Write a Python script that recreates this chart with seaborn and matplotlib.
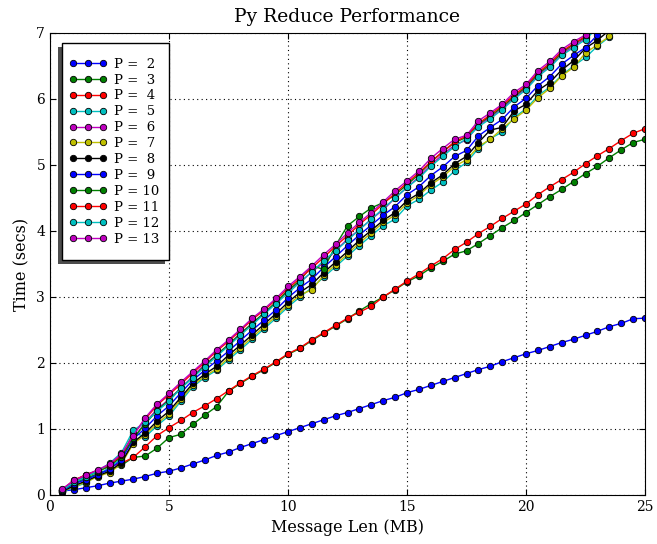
import matplotlib
matplotlib.use("Agg")
import matplotlib.pyplot as plt
import seaborn as sns
from matplotlib.patches import Rectangle
from matplotlib.transforms import IdentityTransform

# Message length (MB)
msg_len = [0.5, 1.0, 1.5, 2.0, 2.5, 3.0, 3.5, 4.0, 4.5, 5.0,
           5.5, 6.0, 6.5, 7.0, 7.5, 8.0, 8.5, 9.0, 9.5, 10.0,
           10.5, 11.0, 11.5, 12.0, 12.5, 13.0, 13.5, 14.0, 14.5, 15.0,
           15.5, 16.0, 16.5, 17.0, 17.5, 18.0, 18.5, 19.0, 19.5, 20.0,
           20.5, 21.0, 21.5, 22.0, 22.5, 23.0, 23.5, 24.0, 24.5, 25.0]

procs = [2, 3, 4, 5, 6, 7, 8, 9, 10, 11, 12, 13]
colors = ["b", "g", "r", "c", "m", "y", "k", "b", "g", "r", "c", "m"]

t_p2 = [0.06, 0.08, 0.11, 0.14, 0.18, 0.21, 0.24, 0.28, 0.33, 0.36,
        0.41, 0.47, 0.53, 0.60, 0.65, 0.72, 0.78, 0.84, 0.90, 0.96,
        1.02, 1.08, 1.14, 1.20, 1.25, 1.31, 1.37, 1.43, 1.48, 1.55,
        1.60, 1.66, 1.72, 1.78, 1.84, 1.90, 1.95, 2.02, 2.08, 2.14,
        2.19, 2.25, 2.31, 2.36, 2.42, 2.48, 2.55, 2.60, 2.67, 2.68]
t_p3 = [0.06, 0.18, 0.25, 0.32, 0.38, 0.45, 0.57, 0.59, 0.71, 0.87,
        0.92, 1.07, 1.21, 1.34, 1.57, 1.69, 1.80, 1.90, 2.01, 2.13,
        2.22, 2.34, 2.45, 2.56, 2.67, 2.79, 2.90, 3.00, 3.11, 3.23,
        3.32, 3.44, 3.54, 3.65, 3.70, 3.81, 3.93, 4.05, 4.16, 4.28,
        4.40, 4.52, 4.63, 4.75, 4.87, 4.98, 5.11, 5.23, 5.34, 5.39]
t_p4 = [0.07, 0.23, 0.30, 0.37, 0.43, 0.48, 0.57, 0.73, 0.90, 1.02,
        1.13, 1.25, 1.35, 1.46, 1.58, 1.70, 1.81, 1.91, 2.02, 2.14,
        2.23, 2.35, 2.46, 2.57, 2.68, 2.77, 2.86, 3.00, 3.12, 3.24,
        3.35, 3.47, 3.58, 3.72, 3.83, 3.96, 4.07, 4.19, 4.30, 4.41,
        4.55, 4.67, 4.78, 4.89, 5.02, 5.14, 5.25, 5.37, 5.48, 5.55]
t_p5 = [0.04, 0.12, 0.18, 0.30, 0.42, 0.55, 0.95, 0.88, 1.05, 1.20,
        1.42, 1.64, 1.78, 1.89, 2.05, 2.20, 2.36, 2.52, 2.68, 2.85,
        3.00, 3.14, 3.30, 3.46, 3.62, 3.78, 3.93, 4.08, 4.18, 4.38,
        4.48, 4.62, 4.74, 4.91, 5.04, 5.25, 5.40, 5.50, 5.72, 5.85,
        6.05, 6.18, 6.36, 6.50, 6.63, 6.80, 6.94, 7.10]
t_p6 = [0.08, 0.20, 0.28, 0.36, 0.45, 0.58, 0.85, 1.10, 1.30, 1.45,
        1.62, 1.80, 1.98, 2.12, 2.28, 2.45, 2.60, 2.76, 2.92, 3.10,
        3.22, 3.38, 3.52, 3.70, 3.88, 4.02, 4.18, 4.32, 4.50, 4.66,
        4.82, 5.00, 5.16, 5.30, 5.38, 5.60, 5.72, 5.86, 6.02, 6.16,
        6.36, 6.50, 6.68, 6.80, 6.92, 7.10, 7.25, 7.40]
t_p7 = [0.05, 0.13, 0.19, 0.28, 0.34, 0.47, 0.78, 0.91, 1.08, 1.23,
        1.45, 1.66, 1.80, 1.91, 2.08, 2.23, 2.39, 2.55, 2.71, 2.88,
        3.03, 3.11, 3.33, 3.49, 3.65, 3.82, 3.97, 4.13, 4.24, 4.42,
        4.54, 4.70, 4.82, 4.98, 5.08, 5.28, 5.39, 5.55, 5.70, 5.83,
        6.02, 6.16, 6.35, 6.48, 6.70, 6.82, 6.95, 7.10]
t_p8 = [0.05, 0.14, 0.21, 0.29, 0.36, 0.49, 0.80, 0.94, 1.12, 1.27,
        1.48, 1.69, 1.83, 1.95, 2.12, 2.27, 2.43, 2.59, 2.75, 2.92,
        3.07, 3.19, 3.37, 3.53, 3.69, 3.86, 4.01, 4.16, 4.28, 4.46,
        4.57, 4.73, 4.85, 5.02, 5.13, 5.34, 5.53, 5.57, 5.82, 5.92,
        6.13, 6.25, 6.44, 6.58, 6.77, 6.89, 7.04, 7.20]
t_p9 = [0.06, 0.17, 0.23, 0.31, 0.39, 0.53, 0.85, 1.01, 1.20, 1.35,
        1.55, 1.74, 1.89, 2.03, 2.18, 2.34, 2.50, 2.65, 2.81, 2.99,
        3.14, 3.27, 3.45, 3.61, 3.78, 3.94, 4.09, 4.24, 4.37, 4.55,
        4.67, 4.84, 4.97, 5.13, 5.22, 5.44, 5.57, 5.69, 5.88, 6.01,
        6.20, 6.34, 6.53, 6.66, 6.78, 6.97, 7.11, 7.26]
t_p10 = [0.07, 0.19, 0.27, 0.35, 0.44, 0.58, 0.86, 1.08, 1.28, 1.44,
         1.62, 1.78, 1.96, 2.12, 2.28, 2.44, 2.60, 2.76, 2.92, 3.10,
         3.25, 3.47, 3.42, 3.78, 4.08, 4.22, 4.35, 4.43, 4.55, 4.70,
         4.86, 5.04, 5.20, 5.34, 5.42, 5.62, 5.74, 5.88, 6.04, 6.18,
         6.38, 6.52, 6.70, 6.83, 6.94, 7.12, 7.27, 7.42]
t_p11 = [0.08, 0.21, 0.31, 0.37, 0.46, 0.60, 0.92, 1.15, 1.36, 1.52,
         1.68, 1.85, 2.01, 2.18, 2.33, 2.49, 2.66, 2.80, 2.96, 3.13,
         3.28, 3.44, 3.60, 3.77, 3.93, 4.10, 4.25, 4.41, 4.57, 4.73,
         4.88, 5.05, 5.20, 5.35, 5.44, 5.63, 5.76, 5.90, 6.06, 6.20,
         6.40, 6.54, 6.72, 6.84, 6.95, 7.12, 7.28, 7.42]
t_p12 = [0.07, 0.19, 0.27, 0.36, 0.48, 0.64, 0.98, 1.10, 1.27, 1.42,
         1.62, 1.78, 1.94, 2.10, 2.26, 2.42, 2.58, 2.74, 2.90, 3.06,
         3.22, 3.38, 3.55, 3.70, 3.86, 4.02, 4.18, 4.34, 4.50, 4.66,
         4.80, 4.98, 5.13, 5.28, 5.40, 5.58, 5.70, 5.84, 6.00, 6.14,
         6.34, 6.48, 6.66, 6.78, 6.90, 7.08, 7.22, 7.38]
t_p13 = [0.09, 0.22, 0.30, 0.38, 0.47, 0.62, 0.90, 1.17, 1.38, 1.54,
         1.71, 1.87, 2.03, 2.20, 2.35, 2.51, 2.68, 2.82, 2.98, 3.16,
         3.31, 3.47, 3.64, 3.80, 3.97, 4.13, 4.28, 4.44, 4.61, 4.76,
         4.91, 5.10, 5.25, 5.39, 5.45, 5.67, 5.79, 5.92, 6.10, 6.22,
         6.43, 6.57, 6.75, 6.87, 6.97, 7.15, 7.30, 7.45]

times = [t_p2, t_p3, t_p4, t_p5, t_p6, t_p7, t_p8, t_p9, t_p10, t_p11, t_p12, t_p13]

x_ticks = [0, 5, 10, 15, 20, 25]
y_ticks = [0, 1, 2, 3, 4, 5, 6, 7]

sns.set_style("ticks", rc={
    "xtick.direction": "in", "ytick.direction": "in",
    "xtick.top": True, "ytick.right": True,
    "axes.grid": True, "grid.color": "k",
    "grid.linewidth": 0.7, "axes.edgecolor": "k", "axes.linewidth": 1.0,
    "xtick.color": "k", "ytick.color": "k", "text.color": "k",
    "axes.labelcolor": "k",
})
plt.rcParams["font.family"] = ["DejaVu Serif", "DejaVu Sans"]
plt.rcParams["xtick.major.size"] = 4
plt.rcParams["ytick.major.size"] = 4

fig = plt.figure(figsize=(6.57, 5.44), dpi=100)
fig.patch.set_facecolor("white")
ax = fig.add_axes([50 / 657, 49 / 544, 595 / 657, 462 / 544])

for p, col, vals in zip(procs, colors, times):
    n = len(vals)
    sns.lineplot(x=msg_len[:n], y=vals, color=col, marker="o", markersize=4.6,
                 markeredgecolor="k", markeredgewidth=0.6, linewidth=1.0,
                 label=f"P = {p:2d}", errorbar=None, sort=False, ax=ax)

ax.set_xlim(0, 25)
ax.set_ylim(0, 7)
ax.set_xticks(x_ticks)
ax.set_yticks(y_ticks)
ax.tick_params(labelsize=10, top=True, right=True, direction="in")
ax.set_xlabel("Message Len (MB)", fontsize=11.5)
ax.set_ylabel("Time (secs)", fontsize=11.5)
ax.set_title("Py Reduce Performance", fontsize=13.5, pad=8)
ax.grid(True, linestyle=(0, (1, 3)), color="k", linewidth=0.8)

handles, labels = ax.get_legend_handles_labels()
leg = ax.legend(handles, labels, loc="upper left",
                bbox_to_anchor=(12 / 595, 1 - 18 / 462), borderaxespad=0,
                numpoints=3, frameon=False, prop={"family": "DejaVu Serif", "size": 9.5},
                handlelength=2.9, handletextpad=0.56, borderpad=0.5,
                labelspacing=0.22)
leg.set_zorder(6)

fig.canvas.draw()
bb = leg.get_window_extent(fig.canvas.get_renderer())
pad_y = 8
shadow = Rectangle((bb.x0 - 4.5, bb.y0 - pad_y - 4), bb.width + 3, bb.height + 2 * pad_y,
                   transform=IdentityTransform(), facecolor="0.3", edgecolor="none",
                   zorder=5, clip_on=False)
frame = Rectangle((bb.x0, bb.y0 - pad_y), bb.width + 3, bb.height + 2 * pad_y,
                  transform=IdentityTransform(), facecolor="white", edgecolor="black",
                  linewidth=1.0, zorder=5.5, clip_on=False)
ax.add_artist(shadow)
ax.add_artist(frame)

fig.savefig("out.png", dpi=100)
